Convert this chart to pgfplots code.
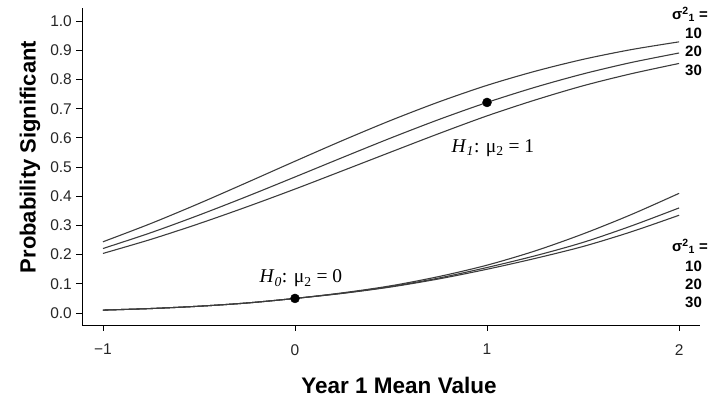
\documentclass[border=0pt]{standalone}
\usepackage{fontspec}
\setmainfont{Liberation Sans}
\newfontfamily\serif{Liberation Serif}
\usepackage{pgfplots}
\pgfplotsset{compat=1.18}
\definecolor{curve}{RGB}{60,60,60}
\begin{document}
\begin{tikzpicture}[x=1pt,y=1pt]
\useasboundingbox (0,0) rectangle (714,403);
\begin{axis}[
  at={(82pt,78pt)}, anchor=south west,
  scale only axis, width=618pt, height=317pt,
  xmin=-1.109, xmax=2.109, ymin=-0.041, ymax=1.045,
  axis x line*=bottom, axis y line*=left,
  axis line style={line width=0.9pt, black},
  tick align=outside, major tick length=6pt,
  tick style={line width=0.8pt, black},
  xtick={-1,0,1,2}, xticklabels={−1,0,1,2},
  ytick={0,0.1,0.2,0.3,0.4,0.5,0.6,0.7,0.8,0.9,1},
  yticklabels={0.0,0.1,0.2,0.3,0.4,0.5,0.6,0.7,0.8,0.9,1.0},
  tick label style={font=\fontsize{15.5}{15.5}\selectfont, text=black!85},
  yticklabel style={anchor=east, inner sep=0pt, xshift=-4pt},
  xticklabel style={anchor=north, inner sep=0pt, yshift=-13pt},
  clip=false,
]
% upper family (H1)
\addplot[curve, line width=1.1pt, smooth] coordinates {
(-1,0.244) (-0.75,0.3068) (-0.5,0.3752) (-0.25,0.4471) (0,0.520) (0.25,0.5917) (0.5,0.6602) (0.75,0.7234) (1,0.780) (1.25,0.8282) (1.5,0.869) (1.75,0.9023) (2,0.929)};
\addplot[curve, line width=1.1pt, smooth] coordinates {
(-1,0.221) (-0.75,0.2753) (-0.5,0.3354) (-0.25,0.3994) (0,0.4661) (0.25,0.5335) (0.5,0.5999) (0.75,0.6631) (1,0.7214) (1.25,0.7734) (1.5,0.8191) (1.75,0.8581) (2,0.8908)};
\addplot[curve, line width=1.1pt, smooth] coordinates {
(-1,0.2041) (-0.75,0.2524) (-0.5,0.3061) (-0.25,0.3639) (0,0.4247) (0.25,0.488) (0.5,0.5517) (0.75,0.6149) (1,0.6754) (1.25,0.7297) (1.5,0.7785) (1.75,0.8196) (2,0.855)};
% lower family (H0)
\addplot[curve, line width=1.1pt, smooth] coordinates {
(-1,0.0100) (-0.75,0.0154) (-0.5,0.0233) (-0.25,0.0344) (0,0.0500) (0.25,0.0694) (0.5,0.0934) (0.75,0.1251) (1,0.164) (1.25,0.2127) (1.5,0.271) (1.75,0.337) (2,0.410)};
\addplot[curve, line width=1.1pt, smooth] coordinates {
(-1,0.0100) (-0.75,0.0154) (-0.5,0.0233) (-0.25,0.0344) (0,0.0500) (0.25,0.0681) (0.5,0.0909) (0.75,0.120) (1,0.156) (1.25,0.196) (1.5,0.242) (1.75,0.298) (2,0.360)};
\addplot[curve, line width=1.1pt, smooth] coordinates {
(-1,0.0100) (-0.75,0.0154) (-0.5,0.0233) (-0.25,0.0344) (0,0.0500) (0.25,0.0675) (0.5,0.0893) (0.75,0.117) (1,0.150) (1.25,0.187) (1.5,0.228) (1.75,0.278) (2,0.335)};
% points
\addplot[only marks, mark=*, mark size=4.5pt, black] coordinates {(0,0.05) (1,0.7214)};
% annotations
\node[anchor=base, font=\serif\fontsize{19.5}{19.5}\selectfont] at (axis cs:0.031,0.103) {\textit{H}\textsubscript{\textit{0}}: μ\textsubscript{2} = 0};
\node[anchor=base, font=\serif\fontsize{19.5}{19.5}\selectfont] at (axis cs:1.031,0.551) {\textit{H}\textsubscript{\textit{1}}: μ\textsubscript{2} = 1};
\begin{scope}[every node/.style={font=\bfseries\fontsize{15}{15}\selectfont, inner sep=0pt}]
\node[anchor=east] at (axis cs:2.151,1.024) {σ\textsuperscript{2}\textsubscript{1} =};
\node[anchor=east] at (axis cs:2.12,0.959) {10};
\node[anchor=east] at (axis cs:2.12,0.897) {20};
\node[anchor=east] at (axis cs:2.12,0.832) {30};
\node[anchor=east] at (axis cs:2.151,0.229) {σ\textsuperscript{2}\textsubscript{1} =};
\node[anchor=east] at (axis cs:2.12,0.161) {10};
\node[anchor=east] at (axis cs:2.12,0.099) {20};
\node[anchor=east] at (axis cs:2.12,0.038) {30};
\end{scope}
\end{axis}
\node[rotate=90, font=\bfseries\fontsize{22}{22}\selectfont] at (30,246) {Probability Significant};
\node[font=\bfseries\fontsize{22.5}{22.5}\selectfont] at (399,18) {Year 1 Mean Value};
\end{tikzpicture}
\end{document}
